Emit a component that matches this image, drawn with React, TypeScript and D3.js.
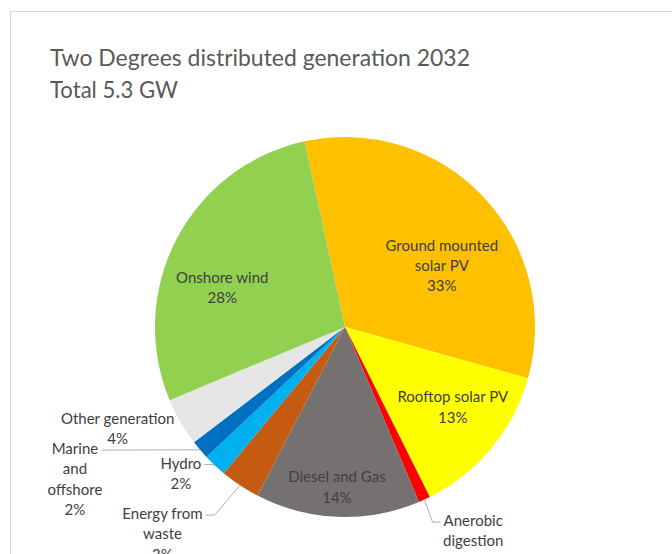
import React from 'react';
import * as d3 from 'd3';

const categories = [
  'Ground mounted solar PV',
  'Rooftop solar PV',
  'Anerobic digestion',
  'Diesel and Gas',
  'Energy from waste',
  'Hydro',
  'Marine and offshore',
  'Other generation',
  'Onshore wind',
];
const shares = [32.8, 13.3, 1.0, 14.0, 3.4, 2.0, 1.6, 4.1, 27.9];
const nameLines = [
  ['Ground mounted', 'solar PV'],
  ['Rooftop solar PV'],
  ['Anerobic', 'digestion'],
  ['Diesel and Gas'],
  ['Energy from', 'waste'],
  ['Hydro'],
  ['Marine', 'and', 'offshore'],
  ['Other generation'],
  ['Onshore wind'],
];
const percentLabels = ['33%', '13%', '1%', '14%', '3%', '2%', '2%', '4%', '28%'];
const colors = ['#FFC000', '#FFFF00', '#FF0000', '#767171', '#C55A11', '#00B0F0', '#0070C0', '#E7E6E6', '#92D050'];
const titleLines = ['Two Degrees distributed generation 2032', 'Total 5.3 GW'];
const titleWidths = [420, 128];

// label placement (polar, relative to pie centre): angle in degrees clockwise from 12 o'clock, radius as fraction of pie radius
const labelLayout: Record<string, { angle: number; rf: number; leader: 'none' | 'left' | 'right' }> = {
  'Ground mounted solar PV': { angle: 57.4, rf: 0.605, leader: 'none' },
  'Rooftop solar PV': { angle: 126.4, rf: 0.705, leader: 'none' },
  'Anerobic digestion': { angle: 149, rf: 1.31, leader: 'right' },
  'Diesel and Gas': { angle: 182.9, rf: 0.84, leader: 'none' },
  'Energy from waste': { angle: 221.5, rf: 1.45, leader: 'left' },
  'Hydro': { angle: 228.4, rf: 1.155, leader: 'left' },
  'Marine and offshore': { angle: 240.7, rf: 1.63, leader: 'left' },
  'Other generation': { angle: 246, rf: 1.31, leader: 'none' },
  'Onshore wind': { angle: 288.2, rf: 0.68, leader: 'none' },
};

const W = 672;
const H = 554;
const cx = 345;
const cy = 327;
const R = 190;
const startDeg = -12.3;
const FONT = 'Lato, "Open Sans", sans-serif';
const LABEL_SIZE = 15;
const LINE_H = 20.3;

let ctx: CanvasRenderingContext2D | null = null;
function textWidth(s: string, size: number) {
  if (!ctx) ctx = document.createElement('canvas').getContext('2d');
  if (!ctx) return s.length * size * 0.5;
  ctx.font = `${size}px Lato`;
  return ctx.measureText(s).width;
}

export default function App() {
  const data = categories.map((c, i) => ({ name: c, value: shares[i], i }));
  const toRad = (d: number) => (d * Math.PI) / 180;
  const pie = d3
    .pie<{ name: string; value: number; i: number }>()
    .sort(null)
    .value((d) => d.value)
    .startAngle(toRad(startDeg))
    .endAngle(toRad(startDeg) + 2 * Math.PI);
  const arcs = pie(data);
  const arc = d3.arc<d3.PieArcDatum<any>>().innerRadius(0).outerRadius(R);

  const polar = (deg: number, r: number) => [Math.sin(toRad(deg)) * r, -Math.cos(toRad(deg)) * r];

  return (
    <svg width={W} height={H} style={{ position: 'absolute', left: 0, top: 0, background: '#fff' }}>
      <rect x={10.5} y={11.5} width={W + 20} height={H + 20} fill="#fff" stroke="#D9D9D9" strokeWidth={1} />
      <g fill="#595959" fontFamily={FONT} fontSize={24}>
        {titleLines.map((t, k) => (
          <text key={k} x={50} y={66 + k * 31.5} textLength={titleWidths[k]} lengthAdjust="spacingAndGlyphs">
            {t}
          </text>
        ))}
      </g>
      <g transform={`translate(${cx},${cy})`}>
        {arcs.map((a) => (
          <path key={a.data.name} d={arc(a) || ''} fill={colors[a.data.i]} />
        ))}
        {arcs.map((a) => {
          const lay = labelLayout[a.data.name];
          const lines = [...nameLines[a.data.i], percentLabels[a.data.i]];
          const [lx, ly] = polar(lay.angle, lay.rf * R);
          const top = ly - ((lines.length - 1) * LINE_H) / 2;
          let leader = null;
          if (lay.leader !== 'none') {
            const mid = (a.startAngle + a.endAngle) / 2;
            const ex = Math.sin(mid) * R;
            const ey = -Math.cos(mid) * R;
            const wFirst = textWidth(nameLines[a.data.i][0], LABEL_SIZE);
            const yl = top + 2;
            let endX: number, bendX: number;
            if (lay.leader === 'left') {
              endX = lx + wFirst / 2 + 3;
              bendX = endX + 9;
            } else {
              endX = lx - wFirst / 2 - 3;
              bendX = endX - 8;
            }
            const pts: [number, number][] = [
              [ex, ey],
              [bendX, yl],
              [endX, yl],
            ];
            leader = <path d={d3.line()(pts) || ''} fill="none" stroke="#A6A6A6" strokeWidth={0.9} />;
          }
          return (
            <g key={'l' + a.data.name}>
              {leader}
              <text
                textAnchor="middle"
                fontFamily={FONT}
                fontSize={LABEL_SIZE}
                fill="#404040"
                dominantBaseline="central"
              >
                {lines.map((s, k) => (
                  <tspan key={k} x={lx} y={top + k * LINE_H}>
                    {s}
                  </tspan>
                ))}
              </text>
            </g>
          );
        })}
      </g>
    </svg>
  );
}
